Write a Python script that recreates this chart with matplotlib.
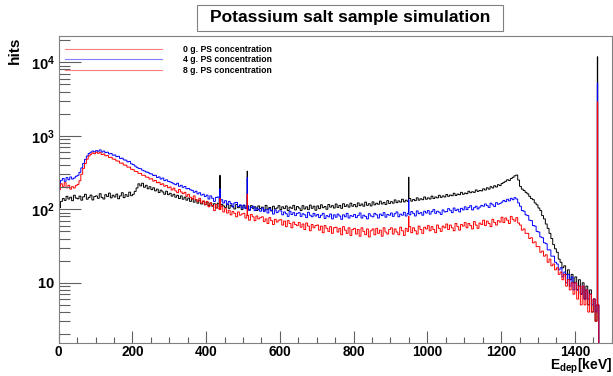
import numpy as np
import matplotlib
matplotlib.use("Agg")
import matplotlib.pyplot as plt
from matplotlib.patches import Rectangle
from matplotlib.lines import Line2D
from matplotlib.ticker import FixedLocator, NullFormatter

plt.rcParams['font.family'] = ['Liberation Sans', 'DejaVu Sans']
plt.rcParams['mathtext.fontset'] = 'custom'
plt.rcParams['mathtext.rm'] = 'Liberation Sans:bold'
plt.rcParams['mathtext.bf'] = 'Liberation Sans:bold'
plt.rcParams['mathtext.it'] = 'Liberation Sans:bold'

# ---- data: 5 keV bins from 0 to 1500 keV (one row = 50 keV) ----
bin_width = 5
e_min, e_max = 0, 1500

counts_0g = [
    105, 128, 140, 132, 150, 138, 146, 131, 155, 142,
    139, 151, 133, 148, 160, 137, 145, 156, 134, 149,
    152, 141, 163, 145, 138, 158, 149, 166, 143, 155,
    147, 161, 139, 152, 168, 144, 158, 150, 171, 153,
    160, 175, 195, 222, 208, 226, 199, 212, 190, 203,
    185, 196, 178, 188, 169, 182, 172, 160, 176, 158,
    165, 151, 160, 146, 155, 140, 152, 137, 146, 133,
    142, 128, 139, 125, 135, 121, 133, 118, 128, 115,
    126, 112, 122, 110, 119, 104, 121, 108, 117, 111,
    106, 118, 103, 114, 108, 101, 116, 105, 112, 99,
    113, 104, 110, 98, 112, 103, 108, 96, 111, 102,
    107, 97, 113, 100, 106, 95, 110, 101, 104, 112,
    99, 108, 102, 111, 96, 107, 103, 113, 98, 109,
    104, 96, 112, 101, 108, 99, 114, 103, 110, 97,
    111, 102, 115, 105, 109, 100, 116, 107, 112, 104,
    118, 106, 113, 103, 119, 109, 115, 107, 121, 110,
    116, 108, 122, 112, 118, 110, 125, 113, 119, 111,
    126, 115, 121, 117, 129, 118, 124, 116, 131, 120,
    127, 121, 134, 123, 130, 125, 137, 126, 133, 128,
    140, 129, 136, 131, 143, 133, 139, 135, 147, 137,
    143, 138, 151, 140, 147, 143, 155, 145, 152, 147,
    159, 150, 156, 153, 165, 154, 161, 158, 170, 160,
    166, 163, 176, 168, 173, 170, 183, 175, 180, 178,
    190, 183, 196, 188, 203, 195, 209, 201, 216, 210,
    224, 232, 240, 252, 246, 262, 272, 285, 292, 250,
    205, 188, 180, 170, 162, 150, 140, 135, 122, 115,
    104, 96, 82, 74, 63, 55, 47, 40, 33, 29,
    26, 21, 19, 16, 17, 13, 15, 11, 13, 10,
    12, 8, 11, 7, 10, 6, 9, 5, 8, 4,
    6, 3, 5, 0, 0, 0, 0, 0, 0, 0,
]

counts_4g = [
    215, 248, 262, 240, 270, 252, 275, 258, 266, 281,
    290, 318, 365, 420, 478, 530, 575, 598, 620, 605,
    628, 615, 642, 601, 620, 590, 598, 566, 574, 545,
    548, 520, 526, 492, 497, 470, 466, 442, 447, 415,
    405, 388, 372, 360, 356, 340, 332, 322, 318, 305,
    302, 288, 290, 271, 276, 258, 266, 245, 252, 240,
    236, 230, 222, 216, 226, 205, 212, 199, 204, 190,
    192, 184, 181, 170, 176, 162, 168, 156, 160, 149,
    156, 138, 152, 141, 128, 145, 147, 126, 135, 122,
    131, 116, 128, 120, 108, 122, 124, 109, 115, 104,
    114, 102, 112, 97, 106, 110, 96, 104, 99, 94,
    104, 93, 99, 89, 102, 96, 86, 98, 90, 95,
    95, 84, 92, 87, 80, 94, 85, 90, 82, 88,
    90, 80, 87, 84, 77, 91, 83, 79, 88, 81,
    85, 77, 83, 88, 75, 82, 79, 86, 74, 84,
    78, 86, 81, 73, 84, 79, 88, 76, 82, 80,
    85, 77, 82, 89, 76, 83, 80, 74, 87, 81,
    79, 88, 84, 76, 86, 82, 90, 78, 85, 83,
    89, 80, 87, 92, 79, 86, 83, 91, 81, 88,
    84, 93, 88, 81, 95, 87, 90, 83, 94, 89,
    96, 86, 93, 99, 88, 94, 91, 85, 98, 92,
    93, 102, 97, 90, 104, 96, 100, 92, 103, 98,
    108, 99, 106, 112, 98, 105, 110, 101, 107, 113,
    110, 118, 112, 106, 121, 115, 109, 123, 117, 120,
    125, 132, 127, 137, 130, 141, 135, 144, 138, 122,
    110, 96, 94, 84, 82, 71, 70, 60, 59, 50,
    49, 42, 41, 35, 34, 28, 28, 23, 23, 19,
    18, 15, 16, 12, 14, 10, 13, 9, 12, 8,
    10, 8, 9, 7, 9, 6, 8, 6, 7, 5,
    6, 4, 5, 0, 0, 0, 0, 0, 0, 0,
]

counts_8g = [
    185, 222, 205, 230, 196, 212, 188, 203, 195, 210,
    218, 245, 300, 360, 420, 480, 530, 560, 585, 570,
    598, 578, 590, 556, 565, 534, 538, 508, 510, 482,
    480, 455, 452, 424, 426, 400, 398, 374, 375, 350,
    346, 328, 326, 308, 308, 290, 290, 274, 273, 258,
    260, 242, 247, 230, 233, 218, 222, 206, 211, 196,
    201, 183, 194, 178, 168, 186, 172, 163, 170, 150,
    160, 146, 138, 152, 135, 128, 141, 122, 130, 116,
    128, 108, 121, 112, 96, 116, 104, 99, 110, 92,
    102, 89, 97, 84, 93, 88, 79, 92, 83, 86,
    88, 76, 83, 71, 85, 79, 70, 81, 74, 77,
    79, 68, 74, 64, 77, 70, 62, 73, 67, 71,
    72, 61, 69, 58, 70, 64, 56, 67, 62, 60,
    66, 57, 63, 53, 65, 59, 51, 62, 56, 60,
    61, 52, 59, 48, 60, 55, 50, 58, 47, 56,
    57, 49, 55, 45, 58, 52, 47, 56, 44, 53,
    55, 46, 53, 43, 56, 50, 45, 54, 42, 51,
    54, 45, 55, 47, 52, 43, 56, 49, 46, 53,
    56, 46, 54, 49, 45, 57, 51, 44, 55, 50,
    58, 48, 56, 51, 46, 59, 53, 47, 57, 54,
    60, 51, 58, 53, 48, 61, 55, 50, 59, 56,
    63, 53, 61, 56, 51, 64, 58, 52, 62, 59,
    66, 56, 64, 60, 54, 68, 61, 55, 65, 62,
    71, 60, 69, 64, 58, 73, 66, 61, 70, 67,
    78, 66, 76, 71, 64, 80, 73, 69, 77, 65,
    61, 52, 54, 47, 47, 40, 41, 35, 36, 31,
    31, 26, 27, 23, 24, 19, 21, 17, 18, 15,
    16, 13, 14, 11, 13, 9, 11, 8, 10, 7,
    10, 6, 9, 5, 9, 5, 8, 4, 7, 4,
    6, 3, 5, 0, 0, 0, 0, 0, 0, 0,
]

# narrow lines (1 keV bins): energy [keV] and counts for each series
line_energy = [437, 511, 949, 1461]
line_counts_0g = [290, 330, 273, 11900]
line_counts_4g = [190, 270, 135, 5200]
line_counts_8g = [140, 160, 80, 2900]

labels = ["0 g. PS concentration", "4 g. PS concentration", "8 g. PS concentration"]
colors = ["black", "#0000ff", "#ff0000"]
legend_colors = ["#ff7f7f", "#7f7fff", "#ff7f7f"]

title = "Potassium salt sample simulation"
xlabel = r"$\mathbf{E_{dep}[keV]}$"
ylabel = "hits"

# ---- build 1 keV histograms ----
def fine_hist(coarse, line_c):
    fine = np.repeat(np.asarray(coarse, dtype=float), bin_width)
    for e, c in zip(line_energy, line_c):
        fine[e] = c
    return fine

edges = np.arange(e_min, e_max + 1, 1)
series = [fine_hist(counts_0g, line_counts_0g),
          fine_hist(counts_4g, line_counts_4g),
          fine_hist(counts_8g, line_counts_8g)]

W, H = 613, 376
fig = plt.figure(figsize=(W / 100, H / 100), dpi=100)
ax_l, ax_r, ax_b, ax_t = 58.7, 611.7, 343.3, 36.0
ax = fig.add_axes([ax_l / W, 1 - ax_b / H, (ax_r - ax_l) / W, (ax_b - ax_t) / H])

ymin, ymax = 1.5, 22800
for y, c in zip(series, colors):
    yy = np.where(y > 0, y, ymin * 0.5)
    ax.stairs(yy, edges, color=c, linewidth=0.7, baseline=None)

ax.set_yscale('log')
ax.set_xlim(e_min, e_max)
ax.set_ylim(ymin, ymax)

# ticks
ax.xaxis.set_major_locator(FixedLocator([0, 200, 400, 600, 800, 1000, 1200, 1400]))
ax.xaxis.set_minor_locator(FixedLocator(np.arange(0, 1501, 50)))
ax.set_xticklabels(["0", "200", "400", "600", "800", "1000", "1200", "1400"])
ax.yaxis.set_major_locator(FixedLocator([10, 100, 1000, 10000]))
minors = [m * 10 ** d for d in range(0, 5) for m in range(2, 10)]
ax.yaxis.set_minor_locator(FixedLocator(minors))
ax.yaxis.set_minor_formatter(NullFormatter())
ax.set_yticklabels([r"$\mathbf{10}$", r"$\mathbf{10^{2}}$", r"$\mathbf{10^{3}}$", r"$\mathbf{10^{4}}$"])
ax.tick_params(axis='both', which='both', direction='in', color='#606060',
               top=False, right=False)
ax.tick_params(axis='x', which='major', length=9, width=0.8, pad=1.5, labelsize=9.8)
ax.tick_params(axis='x', which='minor', length=4.5, width=0.8)
ax.tick_params(axis='y', which='major', length=16, width=0.8, pad=3, labelsize=10.5)
ax.tick_params(axis='y', which='minor', length=8, width=0.8)
for lab in ax.get_xticklabels() + ax.get_yticklabels():
    lab.set_fontweight('bold')
for sp in ax.spines.values():
    sp.set_color('#808080')
    sp.set_linewidth(0.8)

# axis labels
fig.text(ax_r / W, 1 - 376 / H, xlabel, ha='right', va='bottom', fontsize=10)
fig.text(15 / W, 1 - 37 / H, ylabel, rotation=90, ha='center', va='top',
         fontsize=11, fontweight='bold')

# legend (drawn manually, no box)
rows_y = [49.3, 59.3, 70.3]
for ry, lc, lab in zip(rows_y, legend_colors, labels):
    fig.add_artist(Line2D([65 / W, 162 / W], [1 - ry / H, 1 - ry / H],
                          color=lc, linewidth=0.8, transform=fig.transFigure))
    fig.text(183 / W, 1 - ry / H, lab, ha='left', va='center',
             fontsize=6.2, fontweight='bold')

# title box
fig.add_artist(Rectangle((197.3 / W, 1 - 30.5 / H), (502.7 - 197.3) / W, 25.5 / H,
                         transform=fig.transFigure, facecolor='white',
                         edgecolor='#808080', linewidth=0.8))
fig.text(350 / W, 1 - 17.5 / H, title, ha='center', va='center',
         fontsize=12.5, fontweight='bold')

fig.savefig("out.png", dpi=100)
